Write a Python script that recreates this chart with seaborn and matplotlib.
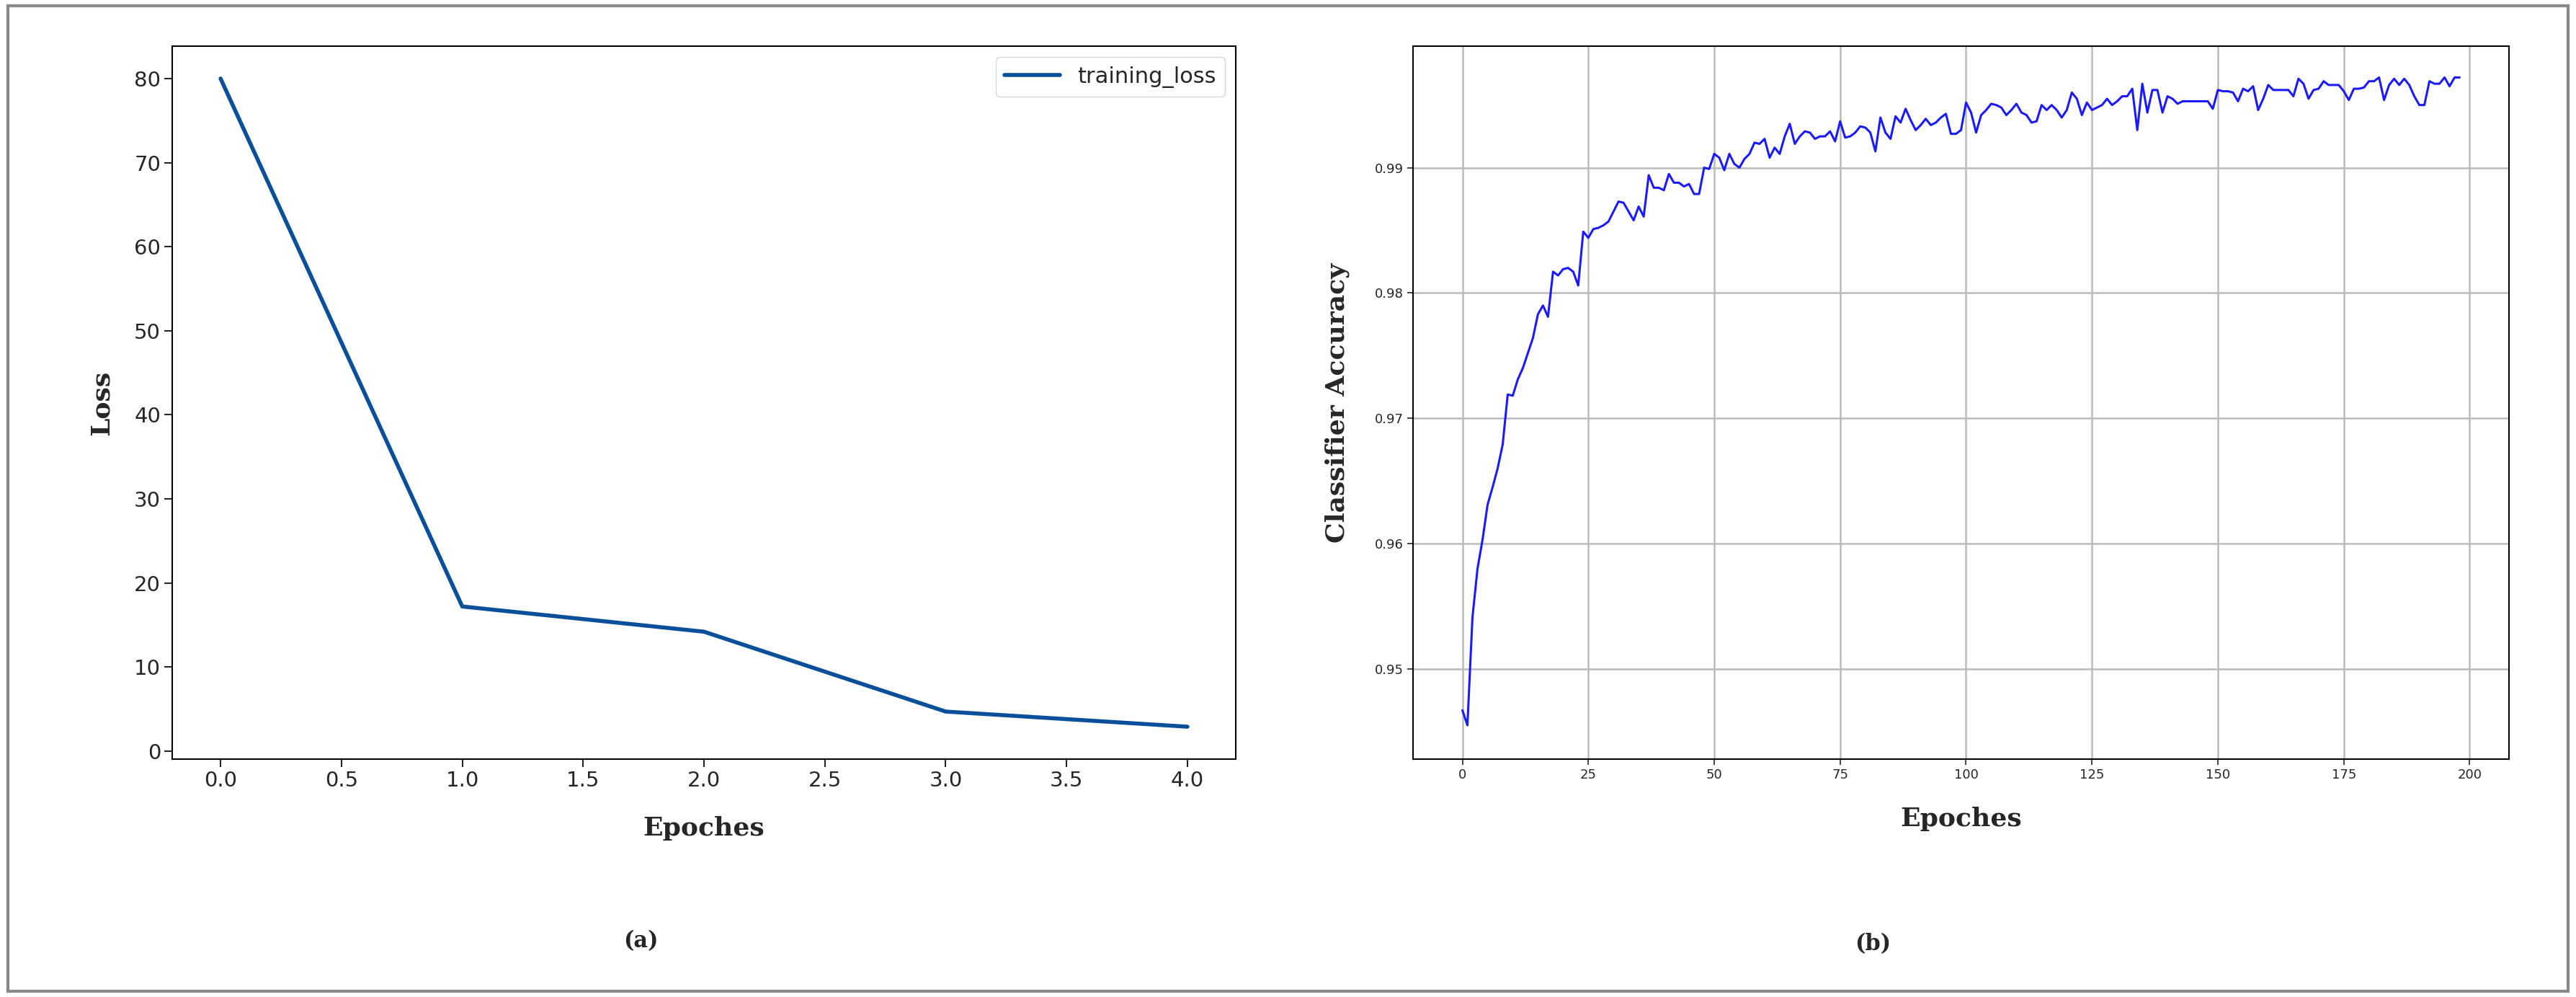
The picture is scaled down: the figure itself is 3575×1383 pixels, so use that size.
import numpy as np
import pandas as pd
import seaborn as sns
import matplotlib
matplotlib.use("Agg")
import matplotlib.pyplot as plt
from matplotlib.patches import Rectangle

loss_epochs = [0, 1, 2, 3, 4]
loss_values = [80.0, 17.2, 14.2, 4.7, 2.9]

acc_values = [
0.9467,0.9455,0.9541,0.9580,0.9603,0.9631,0.9645,0.9660,0.9679,0.9719,
0.9718,0.9731,0.9740,0.9752,0.9764,0.9783,0.9790,0.9781,0.9817,0.9814,
0.9819,0.9820,0.9817,0.9806,0.9849,0.9844,0.9851,0.9852,0.9854,0.9857,
0.9865,0.9873,0.9872,0.9865,0.9858,0.9869,0.9861,0.9894,0.9884,0.9884,
0.9882,0.9895,0.9888,0.9888,0.9885,0.9887,0.9879,0.9879,0.9900,0.9899,
0.9911,0.9908,0.9898,0.9911,0.9903,0.9900,0.9907,0.9911,0.9920,0.9919,
0.9923,0.9908,0.9916,0.9911,0.9925,0.9935,0.9919,0.9925,0.9929,0.9928,
0.9923,0.9925,0.9925,0.9929,0.9921,0.9937,0.9924,0.9925,0.9928,0.9933,
0.9932,0.9928,0.9913,0.9940,0.9928,0.9923,0.9941,0.9936,0.9947,0.9938,
0.9930,0.9934,0.9939,0.9934,0.9936,0.9940,0.9943,0.9927,0.9927,0.9930,
0.9952,0.9944,0.9928,0.9942,0.9946,0.9951,0.9950,0.9948,0.9942,0.9946,
0.9951,0.9944,0.9942,0.9936,0.9937,0.9950,0.9946,0.9950,0.9946,0.9940,
0.9946,0.9960,0.9955,0.9942,0.9952,0.9946,0.9948,0.9950,0.9955,0.9950,
0.9953,0.9957,0.9957,0.9963,0.9930,0.9967,0.9944,0.9962,0.9962,0.9944,
0.9957,0.9955,0.9951,0.9953,0.9953,0.9953,0.9953,0.9953,0.9953,0.9947,
0.9962,0.9961,0.9961,0.9960,0.9953,0.9963,0.9961,0.9965,0.9946,0.9955,
0.9966,0.9962,0.9962,0.9962,0.9962,0.9957,0.9971,0.9967,0.9955,0.9962,
0.9963,0.9969,0.9966,0.9966,0.9966,0.9961,0.9954,0.9963,0.9963,0.9964,
0.9969,0.9969,0.9972,0.9954,0.9966,0.9971,0.9966,0.9971,0.9966,0.9957,
0.9950,0.9950,0.9969,0.9967,0.9967,0.9972,0.9965,0.9972,0.9972]
acc_epochs = list(range(len(acc_values)))

sns.set_style("white")
plt.rcParams['font.family'] = ['DejaVu Sans']

fig = plt.figure(figsize=(35.75, 13.83), dpi=100)
fig.patches.append(Rectangle((0.003, 0.006), 0.994, 0.988, transform=fig.transFigure,
                             fill=False, edgecolor='#888888', linewidth=3))

W, H = 3575, 1383
ax1 = fig.add_axes([239/W, 1 - 1053/H, (1715-239)/W, (1053-64)/H])
ax2 = fig.add_axes([1961/W, 1 - 1053/H, (3482-1961)/W, (1053-64)/H])

df1 = pd.DataFrame({"epoch": loss_epochs, "loss": loss_values})
sns.lineplot(data=df1, x="epoch", y="loss", ax=ax1, color="#0a4f9a", linewidth=4, label="training_loss")
ax1.set_xticks(np.arange(0, 4.01, 0.5))
ax1.set_xticklabels([f"{v:.1f}" for v in np.arange(0, 4.01, 0.5)])
ax1.set_yticks(range(0, 81, 10))
ax1.tick_params(labelsize=21, length=8, width=1.5, bottom=True, left=True)
ax1.set_xlabel("Epoches", family="serif", fontweight="bold", fontsize=26, labelpad=25)
ax1.set_ylabel("Loss", family="serif", fontweight="bold", fontsize=26, labelpad=20)
leg = ax1.legend(loc="upper right", fontsize=22, frameon=True, handlelength=2.5)
leg.get_frame().set_edgecolor("#cccccc")
for s in ax1.spines.values():
    s.set_linewidth(1.5); s.set_color("black")

df2 = pd.DataFrame({"epoch": acc_epochs, "acc": acc_values})
sns.lineplot(data=df2, x="epoch", y="acc", ax=ax2, color="#1a1aff", linewidth=2.2)
ax2.set_xlim(-9.8, 207.8)
ax2.set_ylim(0.9428, 0.9997)
ax2.set_xticks(range(0, 201, 25))
ax2.set_yticks([0.95, 0.96, 0.97, 0.98, 0.99])
ax2.grid(True, color="#bbbbbb", linewidth=1.8)
ax2.tick_params(labelsize=13, length=6, width=1.2, bottom=True, left=True)
ax2.set_xlabel("Epoches", family="serif", fontweight="bold", fontsize=26, labelpad=25)
ax2.set_ylabel("Classifier Accuracy", family="serif", fontweight="bold", fontsize=26, labelpad=25)
for s in ax2.spines.values():
    s.set_linewidth(1.5); s.set_color("black")

fig.text(889/W, 1 - 1306/H, "(a)", family="serif", fontweight="bold", fontsize=22, ha="center", va="center")
fig.text(2599/W, 1 - 1310/H, "(b)", family="serif", fontweight="bold", fontsize=22, ha="center", va="center")

fig.savefig("out.png", dpi=100)
